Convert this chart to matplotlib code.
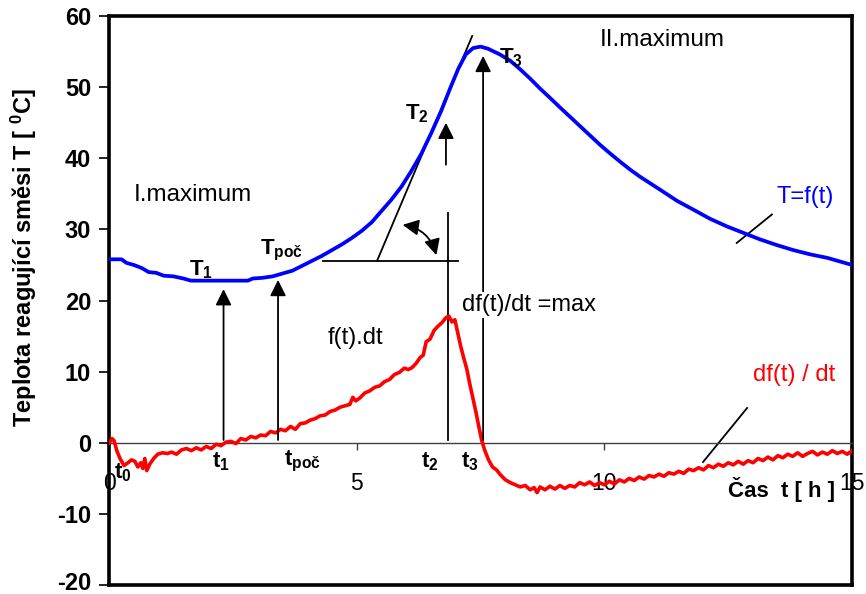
import matplotlib
matplotlib.use("Agg")
import matplotlib.pyplot as plt
from matplotlib.patches import FancyArrowPatch
from matplotlib.transforms import ScaledTranslation

plt.rcParams['font.family'] = ['Liberation Sans', 'DejaVu Sans']
plt.rcParams['mathtext.fontset'] = 'custom'
plt.rcParams['mathtext.rm'] = 'Liberation Sans'
plt.rcParams['mathtext.bf'] = 'Liberation Sans:bold'
plt.rcParams['mathtext.it'] = 'Liberation Sans:italic'

# Temperature of the reacting mixture T = f(t)
t_temp = [0.00, 0.25, 0.35, 0.50, 0.65, 0.80, 0.95, 1.10, 1.30, 1.50, 1.65, 2.00,
          2.40, 2.80, 2.90, 3.10, 3.30, 3.50, 3.70, 3.90, 4.10, 4.30, 4.50, 4.70,
          4.90, 5.10, 5.30, 5.50, 5.70, 5.90, 6.10, 6.30, 6.50, 6.70, 6.90, 7.05,
          7.20, 7.35, 7.50, 7.65, 7.89, 8.10, 8.30, 8.50, 8.70, 8.90, 9.11, 9.31,
          9.51, 9.71, 9.91, 10.11, 10.32, 10.52, 10.72, 10.92, 11.12, 11.47,
          11.79, 12.13, 12.48, 12.81, 13.14, 13.48, 13.81, 14.15, 14.50, 14.75,
          15.00]
temp = [25.8, 25.8, 25.3, 25.0, 24.6, 24.0, 23.9, 23.5, 23.4, 23.1, 22.8, 22.8,
        22.8, 22.8, 23.1, 23.2, 23.4, 23.8, 24.2, 24.9, 25.6, 26.3, 27.1, 27.9,
        28.8, 29.8, 31.0, 32.6, 34.2, 36.0, 38.2, 40.6, 43.5, 46.6, 50.1, 52.6,
        54.6, 55.5, 55.7, 55.4, 54.6, 53.7, 52.5, 51.2, 49.8, 48.5, 47.1, 45.8,
        44.5, 43.2, 41.9, 40.7, 39.5, 38.4, 37.4, 36.5, 35.6, 34.0,
        32.8, 31.5, 30.4, 29.5, 28.6, 27.8, 27.1, 26.5, 26.0, 25.5,
        25.0]

# Rate of temperature change df(t)/dt
t_rate = [0.00, 0.06, 0.10, 0.16, 0.22, 0.30, 0.38, 0.45, 0.52, 0.58, 0.64, 0.68,
          0.72, 0.76, 0.82, 0.90, 0.98, 1.08, 1.18, 1.26, 1.36, 1.46, 1.56, 1.66,
          1.76, 1.86, 1.96, 2.06, 2.16, 2.26, 2.36, 2.46, 2.56, 2.66, 2.76, 2.86,
          2.96, 3.06, 3.16, 3.26, 3.36, 3.46, 3.56, 3.66, 3.76, 3.86, 3.96, 4.06,
          4.16, 4.26, 4.36, 4.46, 4.56, 4.66, 4.76, 4.86, 4.92, 4.98, 5.06, 5.16,
          5.26, 5.36, 5.46, 5.56, 5.66, 5.76, 5.86, 5.96, 6.04, 6.12, 6.20, 6.28,
          6.34, 6.40, 6.48, 6.56, 6.64, 6.72, 6.80, 6.86, 6.92, 6.98, 7.04, 7.10,
          7.16, 7.22, 7.28, 7.34, 7.40, 7.46, 7.52, 7.58, 7.66, 7.74, 7.82, 7.90,
          8.00, 8.10, 8.20, 8.30, 8.40, 8.50, 8.58, 8.64, 8.70, 8.80, 8.90, 9.00,
          9.10, 9.20, 9.30, 9.40, 9.50, 9.60, 9.70, 9.80, 9.90, 10.00, 10.10,
          10.20, 10.30, 10.40, 10.50, 10.60, 10.70, 10.80, 10.90, 11.00, 11.10,
          11.20, 11.30, 11.40, 11.50, 11.60, 11.70, 11.80, 11.90, 12.00, 12.10,
          12.20, 12.30, 12.40, 12.50, 12.60, 12.70, 12.80, 12.90, 13.00, 13.10,
          13.20, 13.30, 13.40, 13.50, 13.60, 13.70, 13.80, 13.90, 14.00, 14.10,
          14.20, 14.30, 14.40, 14.50, 14.60, 14.70, 14.80, 14.90, 15.00]
rate = [0.0, 0.6, 0.3, -1.2, -2.2, -3.2, -2.8, -2.4, -2.6, -3.4, -2.8, -3.6,
        -2.2, -3.9, -3.0, -2.2, -1.6, -1.4, -1.5, -1.3, -1.6, -1.0, -0.8, -1.1,
        -0.7, -1.0, -0.5, -0.8, -0.2, -0.4, 0.1, 0.2, -0.1, 0.6, 0.4, 0.9,
        0.7, 1.1, 1.0, 1.6, 1.4, 1.9, 1.7, 2.3, 1.9, 2.7, 2.8, 3.2,
        3.4, 3.8, 3.9, 4.4, 4.6, 5.0, 5.2, 5.4, 6.4, 5.9, 6.3, 7.0,
        7.3, 7.8, 8.0, 8.6, 8.9, 9.6, 9.9, 10.5, 10.3, 10.6, 11.2, 12.0,
        12.3, 14.2, 14.6, 15.8, 16.4, 16.9, 17.6, 17.8, 17.0, 17.3, 15.4, 13.5,
        11.9, 10.4, 8.3, 6.4, 4.5, 2.4, 0.4, -1.0, -2.4, -3.4, -3.8, -4.5,
        -5.2, -5.6, -5.9, -6.2, -6.0, -6.6, -6.3, -7.0, -6.2, -6.6, -6.1, -6.5,
        -6.0, -6.4, -6.0, -6.2, -5.6, -5.9, -5.5, -6.0, -5.6, -5.9, -5.4,
        -5.8, -5.2, -5.5, -5.0, -5.3, -4.8, -5.1, -4.6, -4.8, -4.4,
        -4.7, -4.2, -4.4, -4.0, -4.3, -3.7, -3.9, -3.5, -3.8, -3.2,
        -3.5, -3.0, -3.3, -2.8, -3.1, -2.6, -3.0, -2.5, -2.8, -2.2,
        -2.5, -2.0, -2.4, -1.8, -2.1, -1.6, -1.9, -1.4, -1.9, -1.5,
        -1.2, -1.7, -1.3, -1.6, -1.1, -1.5, -1.2, -1.6, -1.1]

x_ticks = [0, 5, 10, 15]
y_ticks = [-20, -10, 0, 10, 20, 30, 40, 50, 60]

# Characteristic times and temperatures
t1, t_poc, t2, t3 = 2.31, 3.41, 6.84, 7.55
tangent_t = [5.41, 7.33]
tangent_T = [25.6, 57.2]
base_level = 25.6

fig = plt.figure(figsize=(8.66, 5.94), dpi=100)
ax = fig.add_axes([0.126, 0.015, 0.858, 0.958])
ax.set_xlim(0, 15)
ax.set_ylim(-20, 60)

ax.plot(t_temp, temp, color='#0000ff', lw=2.7, zorder=3)
ax.plot(t_rate, rate, color='#ff0000', lw=2.6, zorder=3)

# Frame: thick box, with the time axis drawn through zero
for side in ('left', 'right', 'top'):
    ax.spines[side].set_linewidth(2.6)
ax.spines['bottom'].set_position(('data', 0))
ax.spines['bottom'].set_linewidth(1.0)
ax.spines['bottom'].set_color('#404040')
ax.plot([0, 1], [0, 0], transform=ax.transAxes, color='k', lw=2.6,
        clip_on=False, solid_capstyle='projecting')

ax.set_xticks(x_ticks)
ax.set_xticklabels([str(v) for v in x_ticks], fontsize=16.5)
ax.tick_params(axis='x', direction='out', length=5, width=1, pad=16,
               color='#404040')
ax.set_yticks(y_ticks)
ax.set_yticklabels([str(v) for v in y_ticks], fontsize=17, fontweight='bold')
ax.tick_params(axis='y', direction='out', length=7, width=1.2, pad=6)
# keep the lowest label inside the figure
low = ax.get_yticklabels()[0]
low.set_transform(low.get_transform()
                  + ScaledTranslation(0, 3 / 72, fig.dpi_scale_trans))

ax.set_ylabel('Teplota reagující směsi T [ $^{\\mathbf{0}}$C]', fontsize=17,
              fontweight='bold')
ax.yaxis.set_label_coords(-0.095, 0.575)


def up_arrow(x, y0, y1):
    ax.annotate('', xy=(x, y1), xytext=(x, y0),
                arrowprops=dict(arrowstyle='-|>,head_length=0.6,head_width=0.3',
                                color='k', lw=1.3, mutation_scale=16,
                                shrinkA=0, shrinkB=0))


up_arrow(t1, 0.4, 21.6)
up_arrow(t_poc, 0.4, 22.9)
up_arrow(t3, 0.4, 54.4)
up_arrow(6.80, 39.1, 45.0)
ax.plot([t2, t2], [0.4, 32.3], color='k', lw=1.3)

# Tangent at the inflection point and the base line
ax.plot(tangent_t, tangent_T, color='k', lw=1.3)
ax.plot([4.32, 7.04], [base_level, base_level], color='k', lw=1.3)
ax.add_patch(FancyArrowPatch((5.87, 30.7), (6.62, 26.0),
                             arrowstyle='<|-|>,head_length=0.6,head_width=0.3',
                             mutation_scale=16, color='k', lw=1.3,
                             connectionstyle='arc3,rad=-0.35'))

# Leader lines to the curve labels
ax.plot([12.67, 13.38], [28.1, 32.1], color='k', lw=1.3)
ax.plot([11.99, 12.88], [-2.7, 4.9], color='k', lw=1.3)

txt = dict(fontsize=17, va='center')
ax.text(0.49, 34.9, 'I.maximum', fontsize=17.5, va='center')
ax.text(9.91, 56.6, 'II.maximum', fontsize=17.5, va='center')
ax.text(13.48, 34.6, 'T=f(t)', color='#0000ff', **txt)
ax.text(13.0, 9.6, 'df(t) / dt', color='#ff0000', **txt)
ax.text(7.13, 19.4, 'df(t)/dt =max', zorder=5,
        bbox=dict(facecolor='white', edgecolor='none', pad=1.5), **txt)
ax.text(4.42, 14.8, 'f(t).dt', **txt)

bold = dict(fontsize=16, va='center', fontweight='bold')
ax.text(1.62, 24.4, '$\\mathbf{T_1}$', **bold)
ax.text(3.05, 27.0, '$\\mathbf{T_{poč}}$', **bold)
ax.text(5.98, 46.2, '$\\mathbf{T_2}$', **bold)
ax.text(7.88, 54.2, '$\\mathbf{T_3}$', **bold)
ax.text(0.10, -4.2, '$\\mathbf{t_0}$', **bold)
ax.text(2.08, -2.6, '$\\mathbf{t_1}$', **bold)
ax.text(3.53, -2.6, '$\\mathbf{t_{poč}}$', **bold)
ax.text(6.30, -2.6, '$\\mathbf{t_2}$', **bold)
ax.text(7.10, -2.6, '$\\mathbf{t_3}$', **bold)
ax.text(12.5, -6.6, 'Čas  t [ h ]', **bold)

fig.savefig('out.png', dpi=100)
